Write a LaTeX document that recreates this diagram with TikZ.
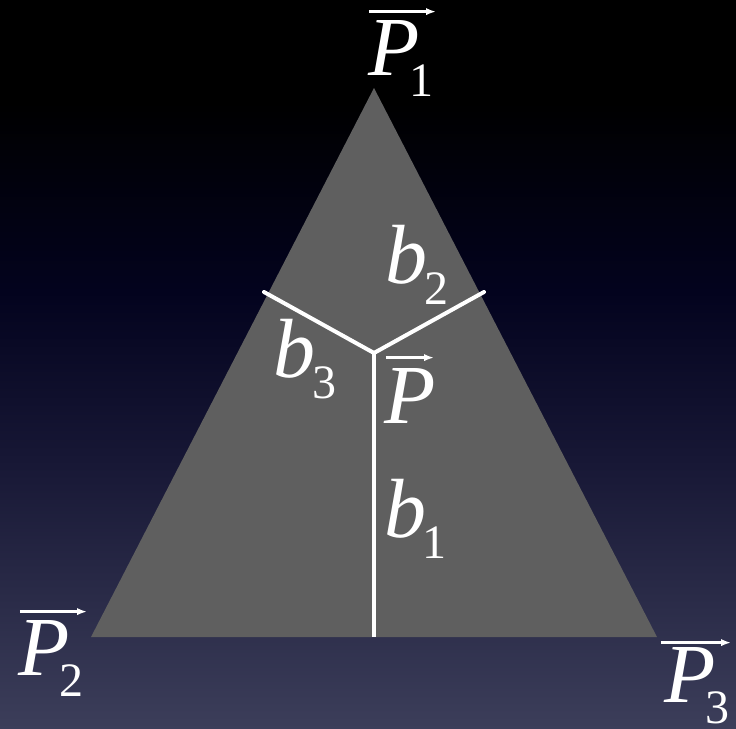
\documentclass[tikz,border=0pt]{standalone}
\usepackage{fontspec}
\setmainfont{Liberation Serif}
\usepackage{tikz}
\usetikzlibrary{arrows.meta}
\definecolor{bgbot}{RGB}{60,62,90}
\definecolor{bgmid}{RGB}{22,22,52}
\definecolor{bgtop}{RGB}{3,3,30}
\definecolor{trigray}{RGB}{95,95,95}
\pgfdeclareverticalshading{bgshade}{100bp}{color(0bp)=(bgbot); color(25bp)=(bgbot);
  color(44bp)=(bgmid); color(55bp)=(bgtop); color(68bp)=(black); color(100bp)=(black)}
\newcommand{\sublbl}[3]{\textit{#1}\kern#3\raisebox{-10.5pt}{\fontsize{24}{24}\selectfont #2}}

\begin{document}
\begin{tikzpicture}[x=0.5pt,y=-0.5pt,>={Latex[length=5pt,width=3.6pt]},
    lbl/.style={text=white,inner sep=0pt,anchor=base west,font=\fontsize{42}{44}\selectfont},
    perp/.style={draw=white,line width=2pt},
    vecbar/.style={draw=white,line width=1.3pt,->}]
  \useasboundingbox (0,0) rectangle (736,729);
  \shade[shading=bgshade] (0,0) rectangle (736,729);
  % corners, centre point and feet
  \coordinate (p1) at (374,88);
  \coordinate (p2) at (91,637);
  \coordinate (p3) at (657,637);
  \coordinate (pc) at (374,353);
  \coordinate (f1) at (374,637);
  \coordinate (f2) at (484,292);
  \coordinate (f3) at (264,292);
  \fill[trigray] (p1) -- (p2) -- (p3) -- cycle;
  \draw[perp] (pc) -- (f1);
  \draw[perp,line cap=round] (pc) -- (f2);
  \draw[perp,line cap=round] (pc) -- (f3);
  % labels
  \node[lbl] (l1) at (368,75) {\sublbl{P}{1}{-5pt}};
  \node[lbl] (l2) at (18,675) {\sublbl{P}{2}{-5pt}};
  \node[lbl] (l3) at (664,702) {\sublbl{P}{3}{-5pt}};
  \node[lbl] (lc) at (384,423) {\textit{P}};
  \node[lbl] (b1) at (384,537) {\sublbl{b}{1}{-2pt}};
  \node[lbl] (b2) at (385,283) {\sublbl{b}{2}{-1.5pt}};
  \node[lbl] (b3) at (273,377) {\sublbl{b}{3}{-1.5pt}};
  % vector bars
  \draw[vecbar] ([shift={(1,-8)}]l1.north west) -- ([shift={(2,-8)}]l1.north east);
  \draw[vecbar] ([shift={(2,-8)}]l2.north west) -- ([shift={(3,-8)}]l2.north east);
  \draw[vecbar] ([shift={(-3,-4)}]l3.north west) -- ([shift={(1,-4)}]l3.north east);
  \draw[vecbar] ([shift={(2,-10)}]lc.north west) -- ([shift={(-2,-10)}]lc.north east);
\end{tikzpicture}
\end{document}
